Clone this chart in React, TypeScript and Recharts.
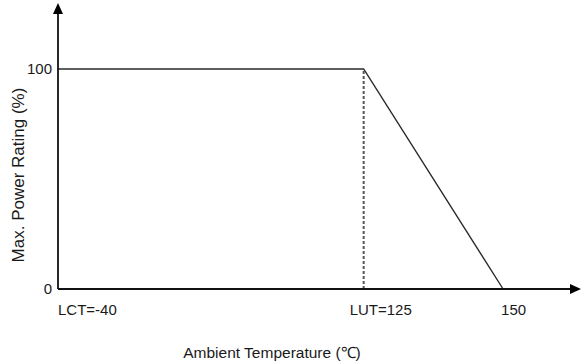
import { LineChart, Line, XAxis, YAxis, ReferenceLine } from 'recharts';

const temps = [-40, 125, 150];
const ratings = [100, 100, 0];
const xTicks = [-40, 125, 150];
const xTickLabels = ['LCT=-40', 'LUT=125', '150'];
const yTicks = [0, 100];
const lutTemp = 125;

const data = temps.map((t, i) => ({ t, p: ratings[i] }));

// the temperature axis is schematic: -40..125 gets ~60% of the width, 125..162 the rest
const AXIS_END = 162;
const BREAK_AT = 0.597;
const TICK_DX = [0, -14, -2];
const FONT = '"Liberation Sans", Arial, sans-serif';

function schematicScale() {
  let dom = [-40, AXIS_END];
  let rng = [0, 1];
  const s: any = (v: number) => {
    const f =
      v <= lutTemp
        ? ((v - dom[0]) / (lutTemp - dom[0])) * BREAK_AT
        : BREAK_AT + ((v - lutTemp) / (dom[1] - lutTemp)) * (1 - BREAK_AT);
    return rng[0] + f * (rng[1] - rng[0]);
  };
  s.domain = (d?: any[]) => {
    if (!d) return dom;
    dom = [Number(d[0]), Number(d[d.length - 1])];
    return s;
  };
  s.range = (r?: number[]) => {
    if (!r) return rng;
    rng = [r[0], r[r.length - 1]];
    return s;
  };
  s.copy = () => schematicScale().domain(dom).range(rng);
  s.ticks = () => xTicks;
  s.nice = () => s;
  return s;
}

const XTick = (props: any) => {
  const { x, y, payload } = props;
  const i = xTicks.indexOf(payload.value);
  return (
    <text x={x + (TICK_DX[i] ?? 0)} y={y + 20} textAnchor="start" dominantBaseline="central"
      fontSize={15} fill="#1a1a1a" fontFamily={FONT}>
      {xTickLabels[i]}
    </text>
  );
};

const App = () => {
  return (
    <div style={{ position: 'absolute', left: 0, top: 0 }}>
      <LineChart width={582} height={363} data={data}
        margin={{ top: 14, right: 12, left: 0, bottom: 0 }} style={{ fontFamily: FONT }}>
        <defs>
          <marker id="arrow" viewBox="0 0 11 10" refX="0" refY="5" markerWidth="11" markerHeight="10"
            markerUnits="userSpaceOnUse" orient="auto-start-reverse">
            <path d="M0,0 L11,5 L0,10 z" fill="#000" />
          </marker>
        </defs>
        <XAxis dataKey="t" type="number" scale={schematicScale()} domain={[-40, AXIS_END]}
          ticks={xTicks} interval={0} height={74} tickLine={false} tickSize={0} tickMargin={0}
          axisLine={{ stroke: '#111', strokeWidth: 1.8, markerEnd: 'url(#arrow)' }}
          tick={<XTick />}
          label={{
            content: () => (
              <text x={272} y={352} textAnchor="middle" dominantBaseline="central" fontSize={15.5}
                fill="#1a1a1a" fontFamily={FONT}>
                Ambient Temperature (℃)
              </text>
            ),
          }} />
        <YAxis type="number" domain={[0, 125]} ticks={yTicks} width={58} tickLine={false}
          tickSize={0} tickMargin={6}
          tick={{ fill: '#1a1a1a', fontSize: 15, fontFamily: FONT }}
          axisLine={{ stroke: '#111', strokeWidth: 1.8, markerStart: 'url(#arrow)' }}
          label={{
            content: () => (
              <text x={18} y={175} transform="rotate(-90 18 175)" textAnchor="middle"
                dominantBaseline="central" fontSize={17} fill="#1a1a1a" fontFamily={FONT}>
                Max. Power Rating (%)
              </text>
            ),
          }} />
        <ReferenceLine segment={[{ x: lutTemp, y: 0 }, { x: lutTemp, y: 100 }]}
          stroke="#555" strokeWidth={2} strokeDasharray="3 2" />
        <Line dataKey="p" type="linear" stroke="#2a2a2a" strokeWidth={1.4} dot={false}
          isAnimationActive={false} />
      </LineChart>
    </div>
  );
};

export default App;
